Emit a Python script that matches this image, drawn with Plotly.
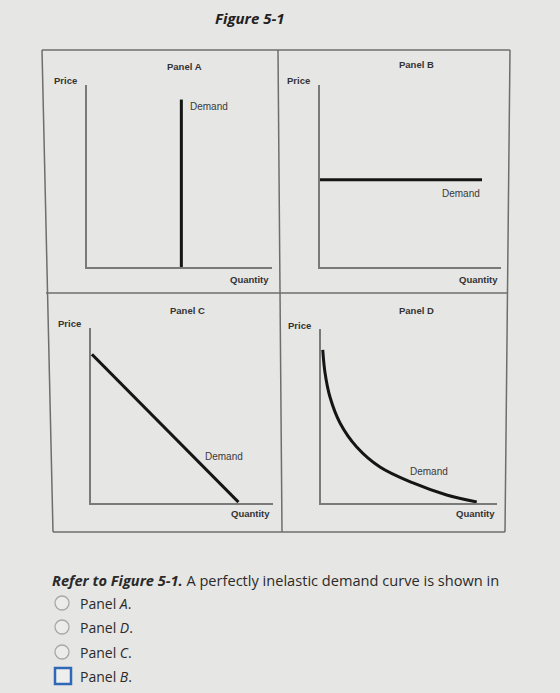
import plotly.graph_objects as go

W, H = 560, 693

# ---- data (axis units 0-10) ----
panel_names = ["Panel A", "Panel B", "Panel C", "Panel D"]
# Panel A: perfectly inelastic (vertical)
a_x = [5.1, 5.1]
a_y = [0.0, 9.2]
# Panel B: perfectly elastic (horizontal)
b_x = [0.0, 8.95]
b_y = [4.8, 4.8]
# Panel C: linear demand
c_x = [0.05, 8.1]
c_y = [8.5, 0.05]
# Panel D: curved demand
d_x = [0.1, 0.23, 0.51, 1.08, 2.03, 3.35, 5.23, 7.14, 8.85]
d_y = [8.8, 7.47, 6.09, 4.60, 3.22, 2.07, 1.15, 0.46, 0.06]

options = ["Panel <i>A</i>.", "Panel <i>D</i>.", "Panel <i>C</i>.", "Panel <i>B</i>."]


def px(x):
    return x / W


def py(y):
    return 1 - y / H


# subplot pixel boxes: (x0, x1, ytop, ybottom)
boxes = [(87, 272, 85, 267), (320, 501, 85, 267), (91, 273, 328, 503), (321, 497, 329, 503)]

fig = go.Figure()
series = [(a_x, a_y, "linear"), (b_x, b_y, "linear"), (c_x, c_y, "linear"), (d_x, d_y, "spline")]
axcol = "#7a7a7a"
for i, ((x0, x1, yt, yb), (sx, sy, shp)) in enumerate(zip(boxes, series)):
    n = "" if i == 0 else str(i + 1)
    fig.add_trace(go.Scatter(x=sx, y=sy, mode="lines", xaxis="x" + n, yaxis="y" + n,
                             line=dict(color="#151515", width=3, shape=shp),
                             showlegend=False, hoverinfo="skip"))
    ax = dict(domain=[px(x0), px(x1)], range=[0, 10], showline=True, linecolor=axcol,
              linewidth=1.5, showgrid=False, zeroline=False, showticklabels=False,
              ticks="", fixedrange=True)
    ay = dict(domain=[py(yb), py(yt)], range=[0, 10], showline=True, linecolor=axcol,
              linewidth=1.5, showgrid=False, zeroline=False, showticklabels=False,
              ticks="", fixedrange=True)
    fig.layout["xaxis" + n] = dict(ax, anchor="y" + n)
    fig.layout["yaxis" + n] = dict(ay, anchor="x" + n)

shapes = []
fr = dict(color="#6e6e6e", width=1.5)


def seg(x0, y0, x1, y1):
    shapes.append(dict(type="line", xref="paper", yref="paper",
                       x0=px(x0), y0=py(y0), x1=px(x1), y1=py(y1), line=fr))


# skewed outer frame (photo perspective)
seg(42, 50, 510, 50)
seg(510, 50, 505, 532)
seg(505, 532, 53, 532)
seg(53, 532, 42, 50)
seg(278, 50, 282, 532)
seg(46, 293, 507, 293)

# radio buttons
for cy in [603, 627, 652]:
    shapes.append(dict(type="circle", xref="paper", yref="paper",
                       x0=px(55), x1=px(69), y0=py(cy + 7), y1=py(cy - 7),
                       line=dict(color="#a8a8a8", width=1.3), fillcolor="#ececea"))
shapes.append(dict(type="rect", xref="paper", yref="paper",
                   x0=px(55), x1=px(71), y0=py(684), y1=py(668),
                   line=dict(color="#2f68b5", width=2.5), fillcolor="#eeeeec"))

ann = []
lab = dict(family="Liberation Sans", size=9.5, color="#333333")


def text(x, y, t, font, xa="left", ya="middle"):
    ann.append(dict(x=px(x), y=py(y), xref="paper", yref="paper", text=t, showarrow=False,
                    xanchor=xa, yanchor=ya, font=font))


text(250, 18, "<b><i>Figure 5-1</i></b>", dict(family="Open Sans", size=15, color="#222222"), xa="center")

# panel titles, price labels, quantity labels, demand labels
titles_pos = [(184, 66), (416, 65), (187, 310), (416, 310)]
price_pos = [(52, 80), (285, 80), (56, 324), (286, 325)]
qty_pos = [(271, 280), (500, 280), (272, 513), (497, 513)]
dem_pos = [(188, 106, "left"), (482, 193, "right"), (245, 457, "right"), (450, 471, "right")]
for i in range(4):
    text(titles_pos[i][0], titles_pos[i][1], "<b>" + panel_names[i] + "</b>", lab, xa="center")
    text(price_pos[i][0], price_pos[i][1], "<b>Price</b>", lab)
    text(qty_pos[i][0], qty_pos[i][1], "<b>Quantity</b>", lab, xa="right")
    text(dem_pos[i][0], dem_pos[i][1], "Demand", dict(family="Liberation Sans", size=10, color="#3a3a3a"), xa=dem_pos[i][2])

q = dict(family="Open Sans", size=14.6, color="#2a2a2a")
text(50, 580, "<b><i>Refer to Figure 5-1.</i></b> A perfectly inelastic demand curve is shown in", q)
qo = dict(family="Open Sans", size=14, color="#2a2a2a")
for t, y in zip(options, [603, 627, 652, 676]):
    text(78, y, t, qo)

fig.update_layout(width=W, height=H, margin=dict(l=0, r=0, t=0, b=0),
                  paper_bgcolor="#e6e6e4", plot_bgcolor="rgba(0,0,0,0)",
                  shapes=shapes, annotations=ann, showlegend=False)
fig.write_html("out.html", config={"displayModeBar": False})
